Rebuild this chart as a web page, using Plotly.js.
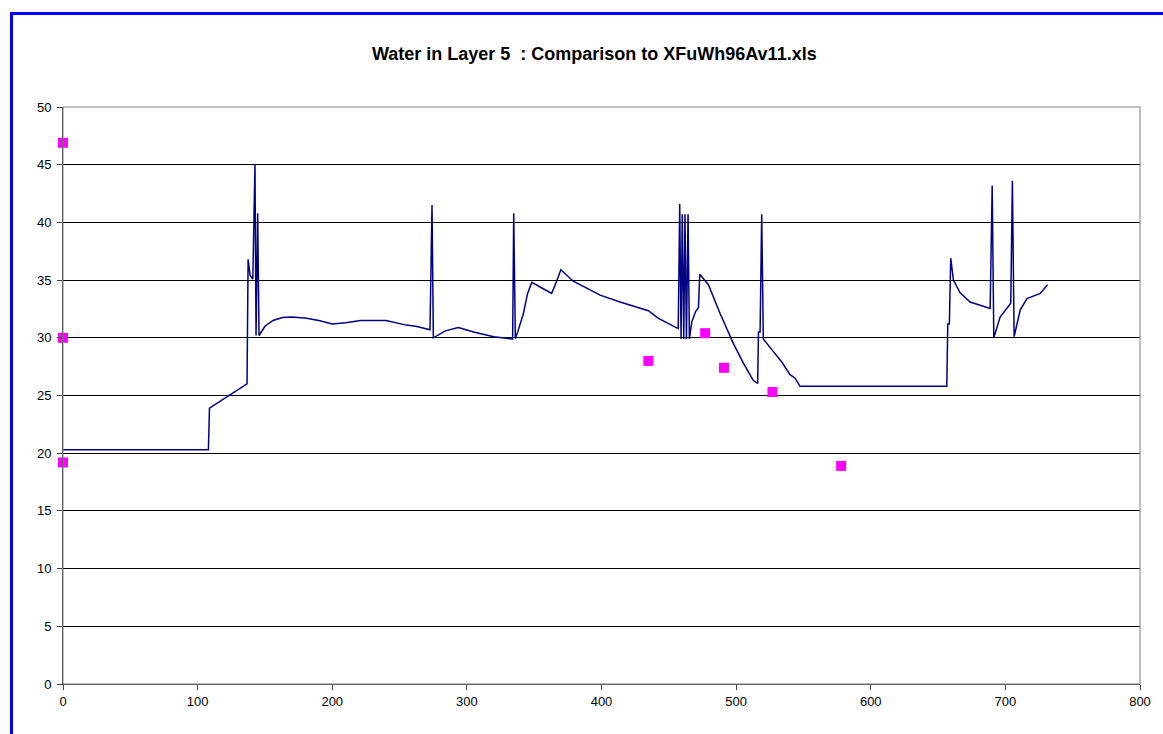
<!DOCTYPE html>
<html>
<head>
<meta charset="utf-8">
<script src="https://cdn.plot.ly/plotly-3.0.1.min.js"></script>
<style>
html,body{margin:0;padding:0;background:#fff;overflow:hidden;}
#chart{position:absolute;left:0;top:0;width:1163px;height:734px;}
#frame{position:absolute;left:10px;top:12px;width:1200px;height:800px;border-left:3px solid #0000FF;border-top:3px solid #0000FF;pointer-events:none;}
</style>
</head>
<body>
<div id="chart"></div>
<div id="frame"></div>
<script>
// Simulated water content (line)
const simDay = [0, 108, 108.8, 136.7, 137.5, 139, 141, 142.6, 143.4, 144.6, 145.6, 150, 156, 163, 170, 181, 190, 200, 210, 221, 240, 255, 262, 272.6, 274.1, 275.1, 284, 293.7, 305, 320, 333.3, 334, 334.8, 336, 338, 342, 345, 348.2, 354.4, 363, 366.8, 369.8, 379, 399, 413.8, 434.8, 442, 457, 458.1, 459.1, 460, 461.1, 462, 463.1, 464.3, 465.3, 467.1, 470, 472, 473, 479.4, 488.1, 498, 505.4, 512.8, 516, 516.6, 517.8, 519, 520.2, 527.7, 533.9, 540.1, 543.8, 547.5, 656.5, 657.2, 658.4, 659.4, 661.4, 666.4, 673.8, 688.7, 690.2, 691.4, 696.1, 704, 705.2, 706.5, 711, 716, 725.9, 731.3];
const simWater = [20.3, 20.3, 23.9, 26.0, 36.8, 35.4, 35.1, 45.0, 30.2, 40.8, 30.2, 31.0, 31.5, 31.75, 31.8, 31.7, 31.5, 31.2, 31.3, 31.5, 31.5, 31.1, 31.0, 30.7, 41.5, 30.0, 30.6, 30.9, 30.5, 30.1, 29.9, 29.9, 40.8, 29.95, 30.6, 32.1, 33.8, 34.8, 34.4, 33.85, 34.95, 35.9, 34.9, 33.7, 33.1, 32.35, 31.7, 30.8, 41.6, 29.9, 40.7, 29.9, 40.7, 29.9, 40.7, 29.9, 31.4, 32.3, 32.6, 35.5, 34.6, 32.1, 29.5, 27.8, 26.3, 26.05, 30.5, 30.5, 40.7, 29.9, 28.8, 27.9, 26.8, 26.5, 25.8, 25.8, 31.2, 31.2, 36.9, 35.0, 33.9, 33.1, 32.55, 43.2, 30.0, 31.8, 33.0, 43.6, 30.1, 32.4, 33.4, 33.85, 34.6];
// Observed values (markers)
const obsDay = [0, 0, 0, 434.8, 477, 491, 527, 578];
const obsWater = [46.9, 30.0, 19.2, 28.0, 30.4, 27.4, 25.3, 18.9];

const titleText = 'Water in Layer 5  : Comparison to XFuWh96Av11.xls';

const traces = [
  {x: simDay, y: simWater, type: 'scatter', mode: 'lines', line: {color: '#000080', width: 1.5}, showlegend: false, cliponaxis: false},
  {x: obsDay, y: obsWater, type: 'scatter', mode: 'markers', marker: {symbol: 'square', size: 10, color: '#FF00FF'}, showlegend: false, cliponaxis: false}
];

const layout = {
  width: 1163, height: 734,
  margin: {l: 63, r: 23, t: 107, b: 50},
  paper_bgcolor: '#ffffff', plot_bgcolor: '#ffffff',
  font: {family: 'Liberation Sans, Arial, sans-serif', size: 13, color: '#000'},
  title: {text: '<b>' + titleText + '</b>', font: {size: 18, family: 'Liberation Sans, Arial, sans-serif', color: '#000'}, x: 0.511, xanchor: 'center', y: 0.927, yanchor: 'middle'},
  xaxis: {range: [0, 800], dtick: 100, tick0: 0, showgrid: false, zeroline: false, showline: true, linecolor: '#404040', linewidth: 1, ticks: 'outside', ticklen: 5, tickcolor: '#404040', tickfont: {size: 13}},
  yaxis: {range: [0, 50], dtick: 5, tick0: 0, showgrid: true, gridcolor: '#000000', gridwidth: 1, zeroline: false, showline: true, linecolor: '#404040', linewidth: 1, ticks: 'outside', ticklen: 5, tickcolor: '#404040', tickfont: {size: 13}, ticklabelstandoff: 3},
  shapes: [
    {type: 'rect', xref: 'paper', yref: 'paper', x0: 0, x1: 1, y0: 0, y1: 1, line: {color: '#808080', width: 1}, layer: 'above'}
  ]
};

Plotly.newPlot('chart', traces, layout, {displayModeBar: false, staticPlot: true});
</script>
</body>
</html>
